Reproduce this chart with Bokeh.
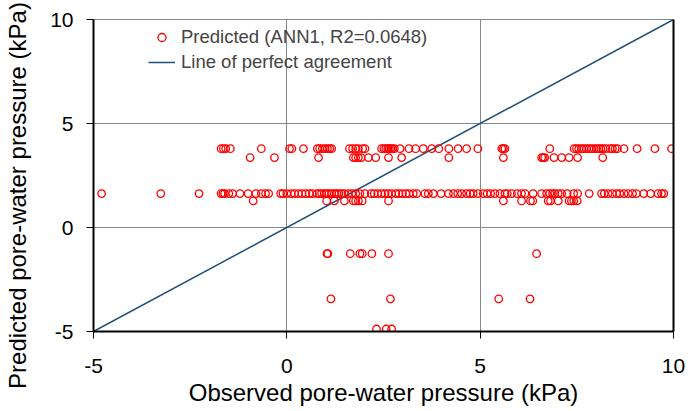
from bokeh.plotting import figure
from bokeh.models import (LinearAxis, Range1d, Legend, LegendItem, FixedTicker,
                          PrintfTickFormatter)
from bokeh.embed import file_html
from bokeh.resources import INLINE

# Predicted levels (kPa) and observed values at each level
predicted_levels = [3.79, 3.36, 1.63, 1.28, -1.26, -3.43, -4.88]

observed_at_3_79 = [-1.70, -1.64, -1.58, -1.46, -0.66, 0.07, 0.13, 0.43, 0.79, 0.85, 0.92, 0.99,
                    1.05, 1.11, 1.16, 1.62, 1.70, 1.78, 1.85, 1.96, 2.02, 2.45, 2.51, 2.56, 2.61,
                    2.65, 2.69, 2.73, 2.78, 2.93, 3.16, 3.33, 3.53, 3.75, 3.93, 4.19, 4.43, 4.65,
                    4.94, 5.56, 5.60, 5.64, 6.80, 7.43, 7.49, 7.55, 7.62, 7.68, 7.75, 7.82, 7.88,
                    7.95, 8.01, 8.07, 8.12, 8.18, 8.25, 8.36, 8.42, 8.49, 8.55, 8.72, 9.06, 9.52, 9.95]
observed_at_3_36 = [-0.95, -0.32, 0.82, 1.72, 1.78, 1.85, 1.92, 2.11, 2.30, 2.63, 2.97, 4.19,
                    5.60, 6.59, 6.63, 6.67, 6.91, 7.11, 7.30, 7.52, 8.17]
observed_at_1_63 = [-4.79, -3.26, -2.27, -1.70, -1.65, -1.61, -1.50, -1.40, -1.21, -1.00, -0.80,
                    -0.66, -0.55, -0.47, -0.16, -0.10, 0.00, 0.11, 0.20, 0.30, 0.39, 0.49, 0.58,
                    0.66, 0.78, 0.84, 0.90, 0.97, 1.03, 1.09, 1.16, 1.23, 1.29, 1.35, 1.42, 1.49,
                    1.59, 1.68, 1.78, 1.89, 2.02, 2.18, 2.26, 2.35, 2.45, 2.54, 2.62, 2.71, 2.82,
                    2.90, 2.99, 3.08, 3.16, 3.27, 3.36, 3.57, 3.66, 3.79, 3.99, 4.18, 4.31, 4.42,
                    4.52, 4.65, 4.74, 4.82, 4.94, 5.08, 5.18, 5.27, 5.38, 5.51, 5.64, 5.70, 5.81,
                    5.96, 6.07, 6.16, 6.37, 6.59, 6.72, 6.80, 6.87, 6.93, 7.02, 7.11, 7.25, 7.42,
                    7.52, 7.82, 8.14, 8.21, 8.31, 8.42, 8.53, 8.61, 8.72, 8.83, 8.94, 9.04, 9.23,
                    9.41, 9.60, 9.69, 9.75]
observed_at_1_28 = [-0.87, 1.03, 1.23, 1.49, 1.72, 1.78, 1.85, 1.95, 2.63, 5.60, 6.07, 6.30,
                    6.36, 6.76, 6.82, 7.02, 7.30, 7.36, 7.42, 7.51]
observed_at_m1_26 = [1.04, 1.06, 1.64, 1.89, 1.95, 2.20, 2.63, 6.46]
observed_at_m3_43 = [1.14, 2.68, 5.48, 6.29]
observed_at_m4_88 = [2.32, 2.57, 2.71]

observed_groups = [observed_at_3_79, observed_at_3_36, observed_at_1_63, observed_at_1_28,
                   observed_at_m1_26, observed_at_m3_43, observed_at_m4_88]

perfect_x = [-5, 10]
perfect_y = [-5, 10]
ticks = [-5, 0, 5, 10]

xs, ys = [], []
for lvl, grp in zip(predicted_levels, observed_groups):
    for o in grp:
        xs.append(o)
        ys.append(lvl)

FONT = "Liberation Sans"

p = figure(width=688, height=411, output_backend="svg", toolbar_location=None,
           x_range=Range1d(-5, 10), y_range=Range1d(-5, 10),
           frame_width=580, frame_height=312,
           min_border_left=93, min_border_right=15, min_border_top=19, min_border_bottom=80,
           background_fill_color="white", border_fill_color="white")

p.outline_line_color = "#888888"
p.outline_line_width = 1

for ax in (p.xaxis[0], p.yaxis[0]):
    ax.ticker = FixedTicker(ticks=ticks)
    ax.formatter = PrintfTickFormatter(format="%d")
    ax.axis_line_color = "black"
    ax.axis_line_width = 2
    ax.major_tick_line_color = "black"
    ax.major_tick_line_width = 1
    ax.major_tick_out = 7
    ax.major_tick_in = 0
    ax.minor_tick_line_color = None
    ax.major_label_text_font = FONT
    ax.major_label_text_font_size = "21px"
    ax.major_label_text_color = "black"
    ax.axis_label_text_font = FONT
    ax.axis_label_text_font_size = "24px"
    ax.axis_label_text_font_style = "normal"
    ax.axis_label_text_color = "black"

p.xaxis.axis_label = "Observed pore-water pressure (kPa)"
p.xaxis.major_label_standoff = 20
p.xaxis.axis_label_standoff = 3
p.yaxis.major_label_standoff = 13
# trailing no-break spaces shift the visible title down, as in the reference
p.yaxis.axis_label = "Predicted pore-water pressure (kPa)" + "\u00a0" * 6
p.yaxis.axis_label_standoff = 16

right = LinearAxis(ticker=FixedTicker(ticks=[]), major_label_text_font_size="0px",
                   axis_line_color="black", axis_line_width=2,
                   major_tick_line_color=None, minor_tick_line_color=None)
p.add_layout(right, "right")

p.xgrid.ticker = FixedTicker(ticks=ticks)
p.ygrid.ticker = FixedTicker(ticks=ticks)
p.grid.grid_line_color = "#888888"
p.grid.grid_line_width = 1

line_r = p.line(perfect_x, perfect_y, line_color="#1f4e79", line_width=1.5)
pts_r = p.scatter(xs, ys, marker="circle", size=7.5, fill_color=None,
                  line_color="#ff0000", line_width=1.3)

legend = Legend(items=[LegendItem(label="Predicted (ANN1, R2=0.0648)", renderers=[pts_r]),
                       LegendItem(label="Line of perfect agreement", renderers=[line_r])],
                location=(55, 258), padding=0, margin=0, spacing=3,
                glyph_width=27, glyph_height=20, label_standoff=6,
                label_text_font=FONT, label_text_font_size="18.5px",
                border_line_color=None, background_fill_alpha=0)
p.add_layout(legend, "center")

open("out.html", "w").write(file_html(p, INLINE))
